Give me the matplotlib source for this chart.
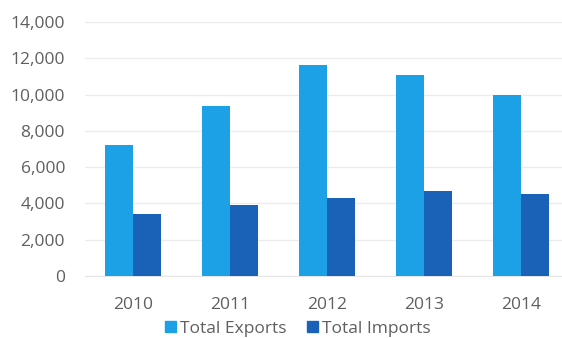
import matplotlib
matplotlib.use("Agg")
import matplotlib.pyplot as plt
import numpy as np
from matplotlib.ticker import FuncFormatter
from matplotlib.patches import Patch

years = ["2010", "2011", "2012", "2013", "2014"]
exports = [7200, 9350, 11650, 11100, 10000]
imports = [3400, 3900, 4300, 4700, 4500]
yticks = [0, 2000, 4000, 6000, 8000, 10000, 12000, 14000]

c_exp = "#1da1e6"
c_imp = "#1a62b8"
txt = "#5f5f5f"

plt.rcParams['font.family'] = ['Open Sans', 'DejaVu Sans']

fig = plt.figure(figsize=(5.62, 3.38), dpi=100)
ax = fig.add_axes([84.5/562, 62/338, 485/562, 254/338])

x = np.arange(len(years))
w = 0.285
ax.bar(x - w/2, exports, w, color=c_exp, zorder=3)
ax.bar(x + w/2, imports, w, color=c_imp, zorder=3)

ax.set_xlim(-0.5, len(years) - 0.5)
ax.set_ylim(0, 14000)
ax.set_yticks(yticks)
ax.yaxis.set_major_formatter(FuncFormatter(lambda v, p: f"{int(v):,}"))
ax.set_xticks(x)
ax.set_xticklabels(years)
ax.grid(axis='y', color='#ececec', linewidth=1, zorder=0)
for s in ax.spines.values():
    s.set_visible(False)
ax.spines['bottom'].set_visible(True)
ax.spines['bottom'].set_color('#e6e6e6')
ax.tick_params(axis='both', length=0, labelsize=12.5, labelcolor=txt)
ax.tick_params(axis='y', pad=14)
ax.tick_params(axis='x', pad=15)

handles = [Patch(color=c_exp, label="Total Exports"), Patch(color=c_imp, label="Total Imports")]
fig.legend(handles=handles, loc='center', bbox_to_anchor=(298/562, 1 - 329/338), ncol=2,
           frameon=False, fontsize=12.5, labelcolor=txt, handlelength=0.6, handleheight=0.6,
           handletextpad=0.25, columnspacing=1.2, borderpad=0)

fig.savefig("out.png", dpi=100, facecolor='white')
